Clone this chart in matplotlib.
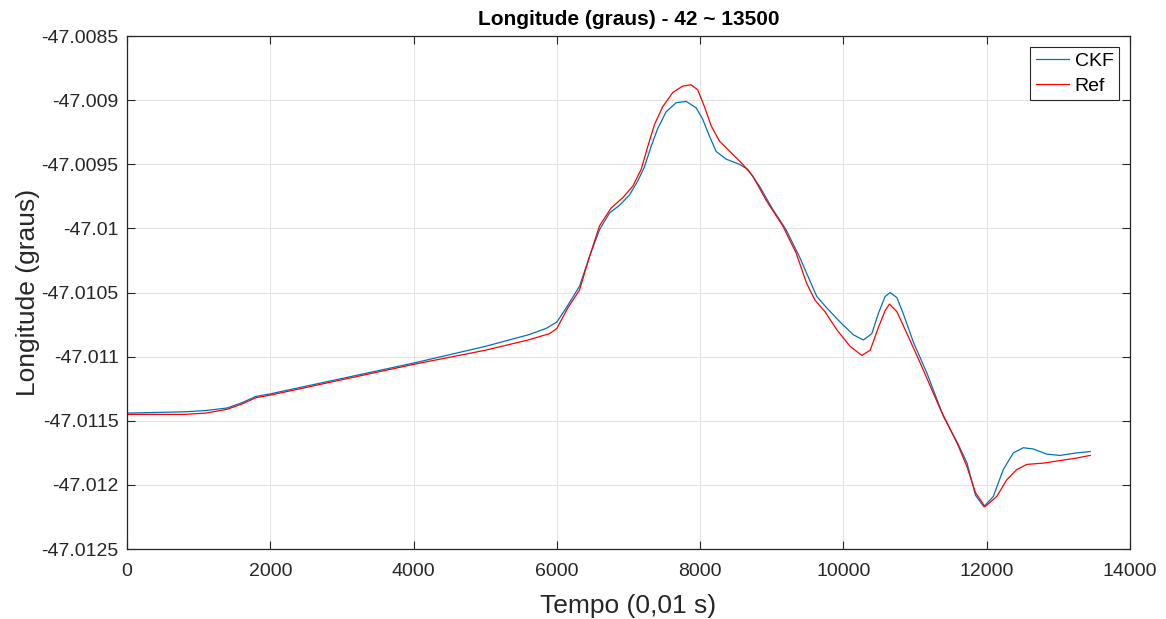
import matplotlib as mpl
import matplotlib.pyplot as plt

mpl.rcParams["font.family"] = ["Liberation Sans", "DejaVu Sans"]

# CKF estimate (blue)
ckf_t = [0, 800, 1100, 1400, 1600, 1800, 2000, 3000, 4000, 5000, 5600, 5850,
         6000, 6131, 6317, 6456, 6596, 6735, 6875, 7014, 7130, 7223, 7317,
         7409, 7526, 7666, 7805, 7945, 8037, 8130, 8224, 8363, 8549, 8665,
         8828, 9013, 9200, 9394, 9510, 9628, 9768, 9954, 10140, 10280, 10397,
         10490, 10583, 10653, 10747, 10839, 10979, 11167, 11399, 11600, 11726,
         11843, 11960, 12092, 12232, 12372, 12512, 12652, 12839, 13025, 13259,
         13445]
ckf_lon = [-47.01144, -47.01143, -47.01142, -47.01140, -47.01136, -47.01131,
           -47.01129, -47.01117, -47.01105, -47.01092, -47.01083, -47.01078,
           -47.01073, -47.01062, -47.01045, -47.01022, -47.01001, -47.00988,
           -47.00982, -47.00974, -47.00963, -47.00952, -47.00936, -47.00922,
           -47.00909, -47.00902, -47.00901, -47.00906, -47.00915, -47.00928,
           -47.00940, -47.00946, -47.00950, -47.00954, -47.00967, -47.00985,
           -47.01001, -47.01023, -47.01038, -47.01053, -47.01062, -47.01073,
           -47.01083, -47.01087, -47.01082, -47.01066, -47.01053, -47.01050,
           -47.01054, -47.01067, -47.01089, -47.01113, -47.01147, -47.01168,
           -47.01183, -47.01208, -47.01217, -47.01209, -47.01188, -47.01175,
           -47.01171, -47.01172, -47.01176, -47.01177, -47.01175, -47.01174]

# Reference (red)
ref_t = [0, 800, 1100, 1400, 1600, 1800, 2000, 3000, 4000, 5000, 5600, 5900,
         6000, 6153, 6317, 6456, 6596, 6759, 6921, 7061, 7177, 7270, 7363,
         7479, 7619, 7758, 7875, 7967, 8060, 8154, 8270, 8433, 8595, 8734,
         8921, 9153, 9339, 9488, 9604, 9744, 9908, 10094, 10257, 10374, 10490,
         10583, 10643, 10747, 10887, 11073, 11353, 11600, 11726, 11843, 11976,
         12140, 12280, 12420, 12560, 12792, 13025, 13259, 13445]
ref_lon = [-47.01145, -47.01145, -47.01144, -47.01141, -47.01137, -47.01132,
           -47.01130, -47.01118, -47.01106, -47.01095, -47.01087, -47.01082,
           -47.01078, -47.01062, -47.01048, -47.01022, -47.00998, -47.00984,
           -47.00976, -47.00967, -47.00954, -47.00936, -47.00919, -47.00905,
           -47.00894, -47.00889, -47.00888, -47.00892, -47.00905, -47.00920,
           -47.00932, -47.00941, -47.00950, -47.00959, -47.00978, -47.00998,
           -47.01019, -47.01043, -47.01056, -47.01065, -47.01079, -47.01092,
           -47.01099, -47.01095, -47.01077, -47.01064, -47.01059, -47.01065,
           -47.01082, -47.01105, -47.01141, -47.01169, -47.01186, -47.01206,
           -47.01217, -47.01209, -47.01196, -47.01188, -47.01184, -47.01183,
           -47.01181, -47.01179, -47.01177]

x_ticks = [0, 2000, 4000, 6000, 8000, 10000, 12000, 14000]
y_ticks = [-47.0125, -47.012, -47.0115, -47.011, -47.0105, -47.01,
           -47.0095, -47.009, -47.0085]
y_tick_labels = ["-47.0125", "-47.012", "-47.0115", "-47.011", "-47.0105",
                 "-47.01", "-47.0095", "-47.009", "-47.0085"]

fig = plt.figure(figsize=(11.66, 6.19), dpi=100)
ax = fig.add_axes([0.1089, 0.113, 0.8602, 0.8288])

ax.plot(ckf_t, ckf_lon, color="#0072BD", lw=0.9, label="CKF")
ax.plot(ref_t, ref_lon, color="#FF0000", lw=0.9, label="Ref")

ax.set_xlim(0, 14000)
ax.set_ylim(-47.0125, -47.0085)
ax.set_xticks(x_ticks)
ax.set_yticks(y_ticks)
ax.set_yticklabels(y_tick_labels)

ax.grid(True, color="#e3e3e3", lw=0.8)
ax.set_axisbelow(True)
ax.tick_params(direction="in", top=True, right=True, length=6,
               color="#262626", labelcolor="#262626", labelsize=14)
ax.tick_params(axis="x", pad=10)
ax.tick_params(axis="y", pad=6)
for s in ax.spines.values():
    s.set_color("#262626")
    s.set_linewidth(0.9)

ax.set_title("Longitude (graus) - 42 ~ 13500", fontsize=15, fontweight="bold",
             pad=8)
ax.set_xlabel("Tempo (0,01 s)", fontsize=19, color="#262626", labelpad=10)
ax.set_ylabel("Longitude (graus)", fontsize=19, color="#262626", labelpad=1)

leg = ax.legend(loc="upper right", fontsize=14, fancybox=False,
                edgecolor="#262626", framealpha=1, handlelength=1.7,
                handletextpad=0.3, borderpad=0.3, labelspacing=0.35,
                borderaxespad=0.55)
leg.get_frame().set_linewidth(0.8)

fig.savefig("out.png", dpi=100)
